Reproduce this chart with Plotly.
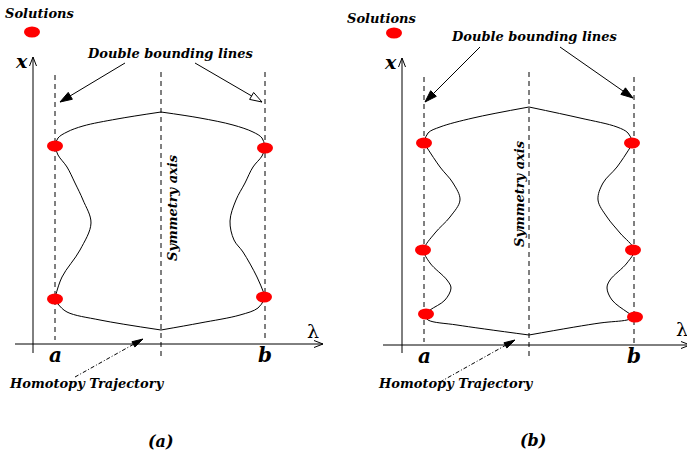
import math
import plotly.graph_objects as go

W, H = 687, 458
FONT = "DejaVu Serif"

# ---- curve control points (diagram units: px-like, y grows downward) ----
a_top_left = [(55,146),(58,138),(67,132),(83,126),(117,119),(161,112)]
a_top_right = [(161,112),(200,118),(233,125),(253,132),(262,138),(265,147)]
a_loop_left = [(55,146),(58,155),(67,167),(75,183),(83,200),(91,223),(80,250),(62,277),(55,298)]
a_loop_right = [(265,148),(262,156),(253,167),(245,183),(236,200),(230,221),(234,240),(243,252),(257,277),(265,296)]
a_bot_left = [(55,299),(58,304),(67,312),(100,320),(161,330)]
a_bot_right = [(161,330),(200,323),(240,315),(258,308),(265,298)]

b_top_left = [(424,143),(428,133),(440,127),(473,118),(529,107)]
b_top_right = [(529,107),(580,118),(617,127),(628,133),(633,143)]
b_wig_left = [(424,143),(440,167),(453,183),(460,200),(450,217),(435,233),(424,250),
              (430,263),(447,280),(451,288),(445,300),(430,310),(424,315)]
b_wig_right = [(633,143),(617,167),(603,183),(598,200),(607,217),(620,233),(634,250),
               (627,263),(610,280),(607,288),(612,300),(627,312),(635,317)]
b_bot_left = [(424,315),(428,320),(457,325),(529,335)]
b_bot_right = [(529,335),(600,323),(627,320),(635,317)]

curves = [a_top_left, a_top_right, a_loop_left, a_loop_right, a_bot_left, a_bot_right,
          b_top_left, b_top_right, b_wig_left, b_wig_right, b_bot_left, b_bot_right]

# solution dots
dots_x = [55, 265, 55, 264, 424, 632, 423, 633, 426, 635, 32, 394]
dots_y = [146, 148, 299, 297, 143, 143, 250, 250, 314, 317, 32, 33]

# dashed vertical lines: x, y_top, y_bottom
dashed_x = [55, 161, 265, 424, 529, 634]
dashed_top = [75, 72, 72, 77, 72, 77]
dashed_bot = [340, 358, 340, 342, 358, 345]

# axes (tail -> tip)
axes_arrows = [((33,353),(33,57)), ((15,344),(323,344)),
               ((402,353),(402,58)), ((383,345),(690,345))]

# pointer arrows: tail, tip, style
pointers = [((125,63),(60,102),"filled"), ((195,63),(262,102),"open"),
            ((480,47),(425,102),"filled"), ((560,47),(633,98),"filled")]
homotopy = [((75,377),(143,339)), ((440,382),(515,340))]

# text labels
labels = [
    ("Solutions", 40, 13, 13, "bi", 0),
    ("Solutions", 382, 18, 13, "bi", 0),
    ("Double bounding lines", 170, 53, 13, "bi", 0),
    ("Double bounding lines", 534, 36, 13, "bi", 0),
    ("x", 21, 61, 19, "bi", 0),
    ("x", 390, 62, 19, "bi", 0),
    ("a", 55, 355, 20, "bi", 0),
    ("b", 265, 355, 20, "bi", 0),
    ("a", 424, 356, 20, "bi", 0),
    ("b", 634, 356, 20, "bi", 0),
    ("λ", 313, 331, 19, "r", 0),
    ("λ", 682, 329, 19, "r", 0),
    ("Symmetry axis", 172, 208, 13, "bi", -90),
    ("Symmetry axis", 519, 194, 13, "bi", -90),
    ("Homotopy Trajectory", 87, 383, 13, "bi", 0),
    ("Homotopy Trajectory", 456, 383, 13, "bi", 0),
    ("(a)", 161, 441, 16, "bi", 0),
    ("(b)", 533, 440, 16, "bi", 0),
]

fig = go.Figure()

for c in curves:
    fig.add_trace(go.Scatter(x=[p[0] for p in c], y=[p[1] for p in c], mode="lines",
                             line=dict(color="black", width=1, shape="spline", smoothing=1.0),
                             hoverinfo="skip", showlegend=False))

for xx, t, b in zip(dashed_x, dashed_top, dashed_bot):
    fig.add_trace(go.Scatter(x=[xx, xx], y=[t, b], mode="lines",
                             line=dict(color="black", width=1, dash="5px,4px"),
                             hoverinfo="skip", showlegend=False))

def head_path(tail, tip, L, Wd, closed=True):
    dx, dy = tip[0]-tail[0], tip[1]-tail[1]
    n = math.hypot(dx, dy)
    ux, uy = dx/n, dy/n
    px, py = -uy, ux
    bx, by = tip[0]-L*ux, tip[1]-L*uy
    p1 = (bx+Wd*px, by+Wd*py)
    p2 = (bx-Wd*px, by-Wd*py)
    if closed:
        return f"M{p1[0]},{p1[1]} L{tip[0]},{tip[1]} L{p2[0]},{p2[1]} Z"
    return f"M{p1[0]},{p1[1]} L{tip[0]},{tip[1]} L{p2[0]},{p2[1]}"

shapes = []
for tail, tip in axes_arrows:
    fig.add_trace(go.Scatter(x=[tail[0], tip[0]], y=[tail[1], tip[1]], mode="lines",
                             line=dict(color="black", width=1), hoverinfo="skip", showlegend=False))
    shapes.append(dict(type="path", xref="x", yref="y", path=head_path(tail, tip, 9, 3.5, False),
                       line=dict(color="black", width=1)))

for tail, tip, style in pointers:
    fig.add_trace(go.Scatter(x=[tail[0], tip[0]], y=[tail[1], tip[1]], mode="lines",
                             line=dict(color="black", width=1), hoverinfo="skip", showlegend=False))
    shapes.append(dict(type="path", xref="x", yref="y", path=head_path(tail, tip, 12, 4),
                       fillcolor="black" if style == "filled" else "white",
                       line=dict(color="black", width=1), layer="above"))

for tail, tip in homotopy:
    fig.add_trace(go.Scatter(x=[tail[0], tip[0]], y=[tail[1], tip[1]], mode="lines",
                             line=dict(color="black", width=1, dash="4px,2px,1px,2px"),
                             hoverinfo="skip", showlegend=False))
    shapes.append(dict(type="path", xref="x", yref="y", path=head_path(tail, tip, 11, 3),
                       fillcolor="black", line=dict(color="black", width=1), layer="above"))

for cx, cy in zip(dots_x, dots_y):
    shapes.append(dict(type="circle", xref="x", yref="y", x0=cx-8, x1=cx+8, y0=cy-5.5, y1=cy+5.5,
                       fillcolor="#ff0000", line=dict(width=0), layer="above"))

annotations = []
for txt, x, y, size, style, ang in labels:
    f = dict(family=FONT, size=size, color="black")
    if style == "bi":
        f.update(style="italic", weight="bold")
    annotations.append(dict(text=txt, x=x, y=y, xref="x", yref="y", showarrow=False,
                            xanchor="center", yanchor="middle", textangle=ang, font=f))

fig.update_layout(
    width=W, height=H, margin=dict(l=0, r=0, t=0, b=0),
    paper_bgcolor="white", plot_bgcolor="white",
    xaxis=dict(range=[0, W], visible=False, fixedrange=True),
    yaxis=dict(range=[H, 0], visible=False, fixedrange=True),
    shapes=shapes, annotations=annotations, showlegend=False,
)

fig.write_html("out.html", config={"displayModeBar": False},
               post_script="document.body.style.margin='0';document.body.style.overflow='hidden';")
